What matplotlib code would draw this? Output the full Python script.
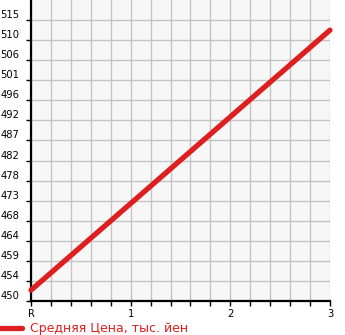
import matplotlib
matplotlib.use("Agg")
import matplotlib.pyplot as plt
from matplotlib.ticker import FixedLocator, MultipleLocator

x_labels = ["R", "1", "2", "3"]
x_vals = [0, 1, 2, 3]
prices = [452.5, 472.5, 492.5, 512.5]
series_name = "Средняя Цена, тыс. йен"
y_tick_vals = [450 + k * 4.63 for k in range(15)]
y_tick_labels = ["450", "454", "459", "464", "468", "473", "478", "482",
                 "487", "492", "496", "501", "506", "510", "515"]

W, H = 345, 335
fig = plt.figure(figsize=(W / 100, H / 100), dpi=100)
ax = fig.add_axes([31 / W, 34 / H, 299 / W, 301 / H])
ax.set_facecolor("#f7f7f7")

red = "#dd1f1f"
ax.plot(x_vals, prices, color=red, lw=3.8, solid_capstyle="round",
        label=series_name, zorder=3, clip_on=False)

ax.set_xlim(0, 3)
ax.set_ylim(450, 450 + 15 * 4.63)
ax.xaxis.set_major_locator(FixedLocator(x_vals))
ax.set_xticklabels(x_labels)
ax.xaxis.set_minor_locator(MultipleLocator(0.2))
ax.yaxis.set_major_locator(FixedLocator(y_tick_vals))
ax.set_yticklabels(y_tick_labels)

ax.grid(True, which="both", color="#c4c4c4", lw=1.0)
ax.set_axisbelow(True)
for s in ["top", "right"]:
    ax.spines[s].set_visible(False)
for s in ["left", "bottom"]:
    ax.spines[s].set_linewidth(1.6)
    ax.spines[s].set_color("black")

ax.tick_params(axis="x", which="both", length=3.5, width=1, direction="out",
               labelsize=7.2, pad=2, colors="black")
ax.tick_params(axis="y", which="both", length=3.5, width=1, direction="out",
               labelsize=7.2, pad=5, colors="black")
for lab in ax.get_yticklabels():
    lab.set_verticalalignment("bottom")

leg = fig.legend(loc="lower left", bbox_to_anchor=(0, 0.0), frameon=False,
                 fontsize=9, borderpad=0, borderaxespad=0,
                 handlelength=1.8, handletextpad=0.6)
for t in leg.get_texts():
    t.set_color(red)

fig.savefig("out.png", dpi=100)
